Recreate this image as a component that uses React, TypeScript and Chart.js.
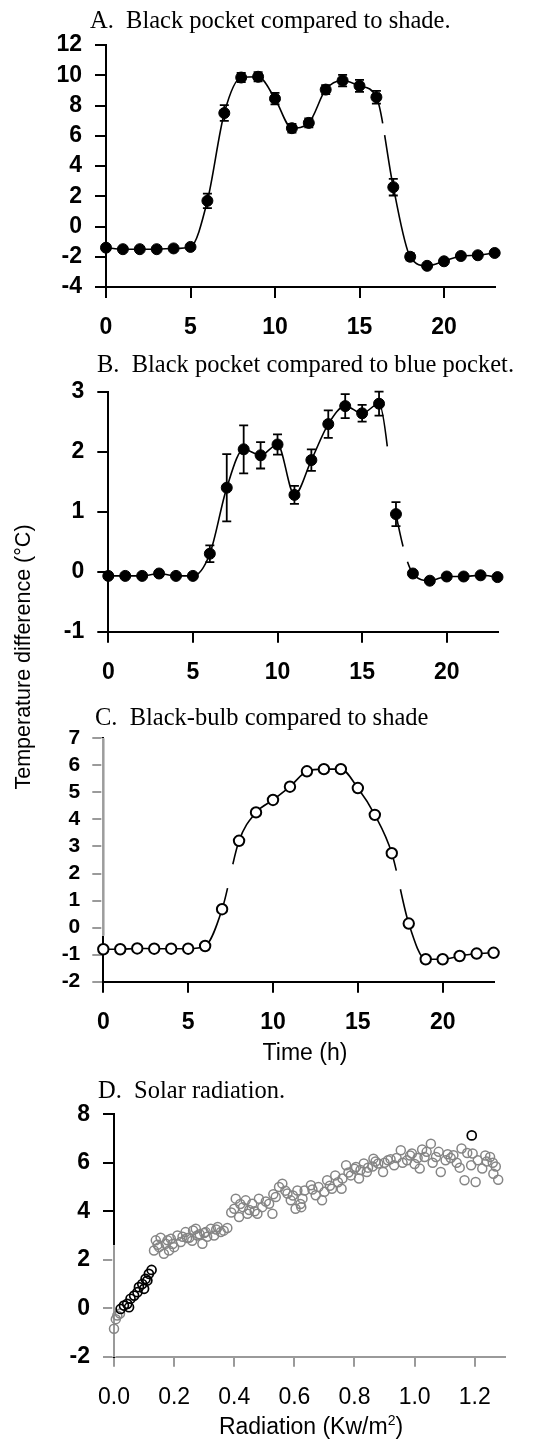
import React, { useEffect, useRef } from "react";
import { Chart, registerables } from "chart.js";

Chart.register(...registerables);

// ---------- data ----------
const hours = [0, 1, 2, 3, 4, 5, 6, 7, 8, 9, 10, 11, 12, 13, 14, 15, 16, 17, 18, 19, 20, 21, 22, 23];

// A. black pocket minus shade (°C), mean and error
const blackVsShade = [-1.4, -1.5, -1.5, -1.5, -1.45, -1.35, 1.7, 7.5, 9.85, 9.9, 8.45, 6.5, 6.85, 9.05, 9.65, 9.3, 8.55, 2.6, -2.0, -2.6, -2.3, -1.95, -1.9, -1.75];
const blackVsShadeErr = [0, 0, 0, 0, 0, 0, 0.48, 0.52, 0.3, 0.3, 0.38, 0.29, 0.3, 0.3, 0.38, 0.4, 0.42, 0.55, 0.24, 0, 0, 0, 0, 0];

// B. black pocket minus blue pocket (°C), mean and error
const blackVsBlue = [-0.07, -0.07, -0.07, -0.03, -0.07, -0.07, 0.3, 1.4, 2.04, 1.94, 2.12, 1.28, 1.86, 2.46, 2.76, 2.64, 2.8, 0.96, -0.03, -0.15, -0.08, -0.08, -0.06, -0.09];
const blackVsBlueErr = [0, 0, 0, 0, 0, 0, 0.14, 0.56, 0.4, 0.22, 0.17, 0.15, 0.18, 0.23, 0.2, 0.14, 0.2, 0.2, 0, 0, 0, 0, 0, 0];

// C. black-bulb minus shade (°C)
const bulbVsShade = [-0.8, -0.8, -0.77, -0.78, -0.78, -0.78, -0.68, 0.68, 3.21, 4.26, 4.72, 5.21, 5.78, 5.86, 5.86, 5.16, 4.17, 2.75, 0.15, -1.17, -1.17, -1.05, -0.96, -0.93];

// D. temperature difference against solar radiation (Kw/m²)
const solarDarkX = [0.022, 0.033, 0.044, 0.05, 0.055, 0.067, 0.078, 0.083, 0.094, 0.1, 0.105, 0.111, 0.116, 0.125, 1.19];
const solarDarkY = [-0.03, 0.11, 0.18, 0.04, 0.39, 0.52, 0.66, 0.87, 1.0, 0.8, 1.21, 1.14, 1.42, 1.58, 7.13];

const solarGreyX = [
  0, 0.011, 0.02, 0.006,
  0.133, 0.139, 0.155, 0.15, 0.166, 0.172, 0.183, 0.189, 0.2, 0.211, 0.222, 0.238, 0.25, 0.263, 0.272, 0.277, 0.294, 0.305, 0.322, 0.333, 0.355, 0.377,
  0.145, 0.195, 0.228, 0.26, 0.285, 0.31, 0.345, 0.365, 0.178, 0.243, 0.3, 0.34,
  0.405, 0.4, 0.416, 0.429, 0.438, 0.444, 0.46, 0.482, 0.477, 0.493, 0.516, 0.527, 0.538, 0.549, 0.56, 0.577, 0.588, 0.604, 0.61, 0.627,
  0.39, 0.45, 0.505, 0.57, 0.595, 0.42, 0.468, 0.53, 0.62,
  0.623, 0.634, 0.655, 0.671, 0.692, 0.709, 0.725, 0.736, 0.757, 0.772, 0.788, 0.805, 0.815, 0.831, 0.841, 0.863, 0.879, 0.895, 0.911, 0.932,
  0.954, 0.975, 0.991, 1.017, 1.033, 1.054, 1.071, 1.087, 1.103, 1.129, 1.156, 1.166, 1.203, 1.193, 1.188, 1.225, 1.251, 1.262, 1.278,
  0.68, 0.7, 0.745, 0.78, 0.82, 0.86, 0.9, 0.94, 0.985, 1.0, 1.04, 1.06, 1.11, 1.14, 1.24, 1.27,
  0.66, 0.718, 0.76, 0.8, 0.845, 0.87, 0.92, 0.96, 1.01, 1.025, 1.08, 1.12, 1.15, 1.175, 1.21, 1.235, 1.26,
];
const solarGreyY = [
  -0.85, -0.3, -0.22, -0.45,
  2.38, 2.8, 2.91, 2.52, 2.25, 2.66, 2.38, 2.87, 2.52, 3.0, 2.73, 3.14, 2.91, 3.21, 3.28, 3.0, 2.66, 3.14, 3.28, 3.0, 3.14, 3.31,
  2.62, 2.65, 2.95, 2.78, 3.05, 2.95, 3.35, 3.2, 2.8, 2.9, 3.1, 3.25,
  4.52, 4.1, 3.76, 4.17, 4.45, 3.9, 4.31, 4.52, 3.9, 4.17, 4.31, 3.9, 4.59, 5.0, 5.14, 4.73, 4.45, 4.1, 4.86, 4.52,
  3.95, 4.05, 4.4, 4.85, 4.65, 4.3, 4.0, 4.7, 4.3,
  4.17, 4.86, 5.07, 4.66, 4.45, 5.28, 4.93, 5.48, 4.93, 5.9, 5.48, 5.83, 5.35, 5.97, 5.62, 6.17, 5.97, 5.62, 6.1, 5.9,
  6.52, 6.1, 6.38, 5.76, 6.24, 6.79, 6.24, 5.62, 6.1, 6.31, 6.59, 5.28, 5.21, 6.38, 5.9, 5.76, 6.24, 5.55, 5.3,
  5.0, 4.8, 5.2, 5.6, 5.7, 5.85, 6.0, 6.2, 6.3, 5.95, 6.45, 6.0, 6.35, 6.0, 6.05, 5.85,
  4.9, 5.05, 5.35, 5.75, 5.8, 6.05, 6.15, 6.0, 6.2, 6.55, 6.45, 6.2, 5.8, 6.4, 6.1, 6.3, 6.0,
];

// tick values
const hourTicks = [0, 5, 10, 15, 20];
const ticksA = [-4, -2, 0, 2, 4, 6, 8, 10, 12];
const ticksB = [-1, 0, 1, 2, 3];
const ticksC = [-2, -1, 0, 1, 2, 3, 4, 5, 6, 7];
const ticksD = [-2, 0, 2, 4, 6, 8];
const radiationTicks = [0, 0.2, 0.4, 0.6, 0.8, 1.0, 1.2];

// ---------- drawing helpers ----------
const PAGE_W = 543;
const SANS = '"Liberation Sans", Arial, Helvetica, sans-serif';
const SERIF = '"Liberation Serif", "Times New Roman", Times, serif';

type Font = { family: string; size: number; weight?: string };

interface AxisSpec {
  min: number;
  max: number;
  ticks: number[];
  font: Font;
  tickLength: number;
  padding: number;
  borderColor: string;
  gridColor: any;
  borderWidth?: number;
  format?: (v: number) => string;
}

interface PanelSpec {
  top: number;
  height: number;
  left: number;
  right: number;
  areaTop: number;
  areaBottom: number;
  x: AxisSpec;
  y: AxisSpec;
  datasets: any[];
  plugins?: any[];
}

function scaleOptions(spec: AxisSpec, fit: (s: any) => void) {
  return {
    type: "linear",
    min: spec.min,
    max: spec.max,
    afterBuildTicks: (s: any) => {
      s.ticks = spec.ticks.map((v) => ({ value: v }));
    },
    afterFit: fit,
    grid: {
      display: true,
      drawOnChartArea: false,
      drawTicks: true,
      tickLength: spec.tickLength,
      color: spec.gridColor,
      lineWidth: 2,
    },
    border: { display: true, color: spec.borderColor, width: spec.borderWidth ?? 2 },
    ticks: {
      font: spec.font,
      color: "#000",
      padding: spec.padding,
      autoSkip: false,
      maxRotation: 0,
      minRotation: 0,
      callback: (v: any) => (spec.format ? spec.format(Number(v)) : String(v)),
    },
  };
}

// vertical error bars with caps, drawn under the markers
function errorBars(errors: number[]) {
  return {
    id: "errorBars",
    beforeDatasetsDraw(chart: any) {
      const ds = chart.data.datasets[0];
      const xs = chart.scales.x;
      const ys = chart.scales.y;
      const ctx = chart.ctx;
      ctx.save();
      ctx.strokeStyle = "#000";
      ctx.lineWidth = 1.8;
      ds.data.forEach((p: { x: number; y: number }, i: number) => {
        const e = errors[i];
        if (!e) return;
        const px = xs.getPixelForValue(p.x);
        const top = ys.getPixelForValue(p.y + e);
        const bot = ys.getPixelForValue(p.y - e);
        const cap = 4.5;
        ctx.beginPath();
        ctx.moveTo(px, top);
        ctx.lineTo(px, bot);
        ctx.moveTo(px - cap, top);
        ctx.lineTo(px + cap, top);
        ctx.moveTo(px - cap, bot);
        ctx.lineTo(px + cap, bot);
        ctx.stroke();
      });
      ctx.restore();
    },
  };
}

// recolours part of the y-axis line between two values
function axisTint(from: number, to: number, color: string, width: number) {
  return {
    id: "axisTint",
    beforeDatasetsDraw(chart: any) {
      const ys = chart.scales.y;
      const x = chart.chartArea.left;
      const y1 = ys.getPixelForValue(from);
      const y2 = ys.getPixelForValue(to);
      const ctx = chart.ctx;
      ctx.save();
      ctx.lineCap = "butt";
      ctx.strokeStyle = "#fff";
      ctx.lineWidth = width + 1.5;
      ctx.beginPath();
      ctx.moveTo(x, y1);
      ctx.lineTo(x, y2);
      ctx.stroke();
      ctx.strokeStyle = color;
      ctx.lineWidth = width;
      ctx.beginPath();
      ctx.moveTo(x, y1);
      ctx.lineTo(x, y2);
      ctx.stroke();
      ctx.restore();
    },
  };
}

function lineDataset(values: number[], point: any, breaks: Record<number, number[]>) {
  return {
    data: hours.map((h, i) => ({ x: h, y: values[i] })),
    borderColor: "#000",
    borderWidth: 1.6,
    cubicInterpolationMode: "monotone",
    fill: false,
    clip: false,
    segment: {
      borderDash: (c: any) => breaks[c.p0DataIndex],
    },
    ...point,
  };
}

function Panel({ spec }: { spec: PanelSpec }) {
  const ref = useRef<HTMLCanvasElement>(null);
  useEffect(() => {
    const canvas = ref.current;
    if (!canvas) return;
    const chart = new Chart(canvas, {
      type: "line",
      data: { datasets: spec.datasets },
      options: {
        responsive: false,
        animation: false,
        devicePixelRatio: 1,
        events: [],
        layout: {
          padding: { left: 0, top: spec.areaTop - spec.top, right: PAGE_W - spec.right, bottom: 0 },
        },
        plugins: { legend: { display: false }, tooltip: { enabled: false } },
        scales: {
          x: scaleOptions(spec.x, (s: any) => {
            s.height = spec.top + spec.height - spec.areaBottom;
          }),
          y: scaleOptions(spec.y, (s: any) => {
            s.width = spec.left;
          }),
        },
      } as any,
      plugins: spec.plugins ?? [],
    });
    return () => chart.destroy();
  }, []);
  return (
    <canvas
      ref={ref}
      width={PAGE_W}
      height={spec.height}
      style={{ position: "absolute", left: 0, top: spec.top, width: PAGE_W, height: spec.height }}
    />
  );
}

const boldTick: Font = { family: SANS, size: 23, weight: "bold" };
const filledDot = { pointRadius: 5.5, pointBackgroundColor: "#000", pointBorderColor: "#000", pointBorderWidth: 1 };
const openDot = { pointRadius: 5.2, pointBackgroundColor: "#fff", pointBorderColor: "#000", pointBorderWidth: 2 };

const hourAxis = (font: Font): AxisSpec => ({
  min: 0,
  max: 23,
  ticks: hourTicks,
  font,
  tickLength: 11,
  padding: 16,
  borderColor: "#000",
  gridColor: "#000",
});

const panelA: PanelSpec = {
  top: 0,
  height: 345,
  left: 106,
  right: 494.7,
  areaTop: 45,
  areaBottom: 287,
  x: hourAxis(boldTick),
  y: { min: -4, max: 12, ticks: ticksA, font: boldTick, tickLength: 11, padding: 13, borderColor: "#000", gridColor: "#000" },
  datasets: [lineDataset(blackVsShade, filledDot, { 16: [27, 12, 400] })],
  plugins: [errorBars(blackVsShadeErr)],
};

const panelB: PanelSpec = {
  top: 345,
  height: 355,
  left: 108.3,
  right: 497.5,
  areaTop: 391.7,
  areaBottom: 631.7,
  x: hourAxis(boldTick),
  y: { min: -1, max: 3, ticks: ticksB, font: boldTick, tickLength: 11, padding: 13, borderColor: "#000", gridColor: "#000" },
  datasets: [lineDataset(blackVsBlue, filledDot, { 16: [44, 400], 17: [33, 16, 400] })],
  plugins: [errorBars(blackVsBlueErr)],
};

const panelC: PanelSpec = {
  top: 700,
  height: 380,
  left: 103.3,
  right: 493.6,
  areaTop: 738.3,
  areaBottom: 981.7,
  x: hourAxis(boldTick),
  y: {
    min: -2,
    max: 7,
    ticks: ticksC,
    font: { family: SANS, size: 21, weight: "bold" },
    tickLength: 11,
    padding: 12,
    borderColor: "#000",
    gridColor: "#9a9a9a",
    borderWidth: 2,
  },
  datasets: [lineDataset(bulbVsShade, openDot, { 7: [22, 24, 400], 17: [18, 19, 400] })],
  plugins: [axisTint(7, -0.3, "#9c9c9c", 2.5)],
};

const greyRing = "#858585";
const panelD: PanelSpec = {
  top: 1080,
  height: 364,
  left: 114,
  right: 504.8,
  areaTop: 1114.3,
  areaBottom: 1356.7,
  x: {
    min: 0,
    max: 1.3,
    ticks: radiationTicks,
    font: { family: SANS, size: 23, weight: "normal" },
    tickLength: 10,
    padding: 17,
    borderColor: "#9a9a9a",
    gridColor: "#9a9a9a",
    format: (v) => v.toFixed(1),
  },
  y: {
    min: -2,
    max: 8,
    ticks: ticksD,
    font: boldTick,
    tickLength: 11,
    padding: 13,
    borderColor: "#000",
    gridColor: (c: any) => (c.tick && c.tick.value >= 3 ? "#000" : "#9a9a9a"),
  },
  datasets: [
    {
      data: solarDarkX.map((x, i) => ({ x, y: solarDarkY[i] })),
      showLine: false,
      clip: false,
      pointRadius: 4.5,
      pointBorderWidth: 1.7,
      pointBorderColor: "#000",
      pointBackgroundColor: "rgba(255,255,255,0)",
    },
    {
      data: solarGreyX.map((x, i) => ({ x, y: solarGreyY[i] })),
      showLine: false,
      clip: false,
      pointRadius: 4.5,
      pointBorderWidth: 1.5,
      pointBorderColor: greyRing,
      pointBackgroundColor: "rgba(255,255,255,0)",
    },
  ],
  plugins: [axisTint(2.6, -2, "#9a9a9a", 2)],
};

const titleStyle = (left: number, top: number): React.CSSProperties => ({
  position: "absolute",
  left,
  top,
  fontFamily: SERIF,
  fontSize: 24.5,
  lineHeight: "24.5px",
  whiteSpace: "pre",
  color: "#000",
});

export default function App() {
  return (
    <div style={{ position: "absolute", left: 0, top: 0, width: PAGE_W, height: 1444, background: "#fff", overflow: "hidden" }}>
      <Panel spec={panelA} />
      <Panel spec={panelB} />
      <Panel spec={panelC} />
      <Panel spec={panelD} />

      <div style={titleStyle(90, 8.4)}>{"A.  Black pocket compared to shade."}</div>
      <div style={titleStyle(97, 351.8)}>{"B.  Black pocket compared to blue pocket."}</div>
      <div style={titleStyle(95, 705.1)}>{"C.  Black-bulb compared to shade"}</div>
      <div style={titleStyle(98, 1078.4)}>{"D.  Solar radiation."}</div>

      <div
        style={{
          position: "absolute",
          left: 22.5 - 200,
          top: 656.5 - 11,
          width: 400,
          height: 22,
          lineHeight: "22px",
          textAlign: "center",
          fontFamily: SANS,
          fontSize: 21.5,
          transform: "rotate(-90deg)",
          transformOrigin: "50% 50%",
          whiteSpace: "pre",
        }}
      >
        Temperature difference (°C)
      </div>

      <div
        style={{
          position: "absolute",
          left: 205,
          top: 1040.7,
          width: 200,
          textAlign: "center",
          fontFamily: SANS,
          fontSize: 23,
          lineHeight: "23px",
        }}
      >
        Time (h)
      </div>

      <div
        style={{
          position: "absolute",
          left: 161,
          top: 1415.2,
          width: 300,
          textAlign: "center",
          fontFamily: SANS,
          fontSize: 23,
          lineHeight: "23px",
          whiteSpace: "pre",
        }}
      >
        Radiation (Kw/m<sup style={{ fontSize: 14, lineHeight: 0, verticalAlign: "9px" }}>2</sup>)
      </div>
    </div>
  );
}
